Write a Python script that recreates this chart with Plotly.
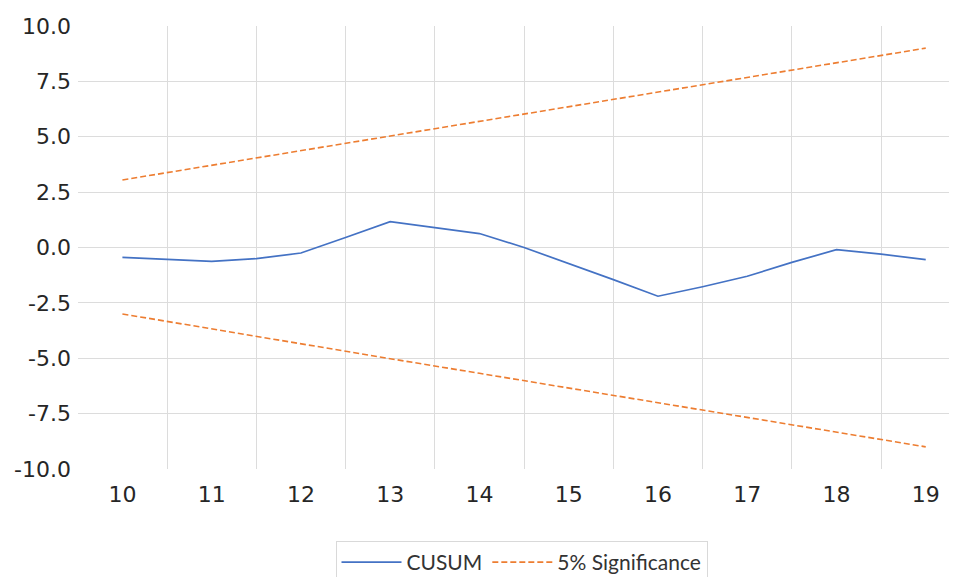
import plotly.graph_objects as go

# Category periods (x-axis tick labels)
periods = [10, 11, 12, 13, 14, 15, 16, 17, 18, 19]

# CUSUM statistic, read at half-period steps
cusum_x = [10, 10.5, 11, 11.5, 12, 12.5, 13, 13.5, 14, 14.5,
           15, 15.5, 16, 16.5, 17, 17.5, 18, 18.5, 19]
cusum_y = [-0.45, -0.55, -0.63, -0.50, -0.25, 0.45, 1.17, 0.90, 0.63, 0.00,
           -0.72, -1.45, -2.20, -1.77, -1.30, -0.67, -0.10, -0.30, -0.55]

# 5% significance bounds
upper_bound = [3.05, 3.71, 4.37, 5.03, 5.69, 6.35, 7.01, 7.67, 8.33, 9.00]
lower_bound = [-3.00, -3.68, -4.35, -5.02, -5.68, -6.35, -7.00, -7.67, -8.33, -9.00]

y_ticks = [-10.0, -7.5, -5.0, -2.5, 0.0, 2.5, 5.0, 7.5, 10.0]

blue = "#4472C4"
orange = "#ED7D31"
grid = "#dcdcdc"

fig = go.Figure()
fig.add_trace(go.Scatter(
    x=cusum_x, y=cusum_y, mode="lines", name="CUSUM",
    line=dict(color=blue, width=1.7),
))
fig.add_trace(go.Scatter(
    x=periods, y=upper_bound, mode="lines", name="5% Significance",
    line=dict(color=orange, width=1.6, dash="6px,3px"),
))
fig.add_trace(go.Scatter(
    x=periods, y=lower_bound, mode="lines", name="5% Significance",
    line=dict(color=orange, width=1.6, dash="6px,3px"), showlegend=False,
))

fig.update_layout(
    width=957, height=577,
    margin=dict(l=70, r=0, t=18, b=116, autoexpand=False),
    paper_bgcolor="white", plot_bgcolor="white",
    font=dict(family="DejaVu Sans", size=22, color="#262626"),
    showlegend=True,
    legend=dict(
        orientation="h", x=0.5, xanchor="center", y=-0.1625, yanchor="top",
        font=dict(family="Lato", size=21, color="#333333"),
        bordercolor="#d9d9d9", borderwidth=1, bgcolor="white",
        itemwidth=60,
    ),
    xaxis=dict(
        range=[9.5025, 19.44], automargin=False,
        tickmode="array", tickvals=periods, ticktext=[str(p) for p in periods],
        showgrid=False, zeroline=False, showline=False, ticks="",
        ticklabelstandoff=10,
        minor=dict(tickvals=[p + 0.5 for p in periods[:-1]], showgrid=True,
                   gridcolor=grid, gridwidth=1.3, ticks=""),
    ),
    yaxis=dict(
        range=[-10, 10], automargin=False,
        tickmode="array", tickvals=y_ticks, ticktext=[f"{v:.1f}" for v in y_ticks],
        showgrid=False, zeroline=False, showline=False, ticks="",
        ticklabelstandoff=6,
        minor=dict(tickvals=y_ticks[1:-1], showgrid=True,
                   gridcolor=grid, gridwidth=1.3, ticks=""),
    ),
)

fig.write_html("out.html")
